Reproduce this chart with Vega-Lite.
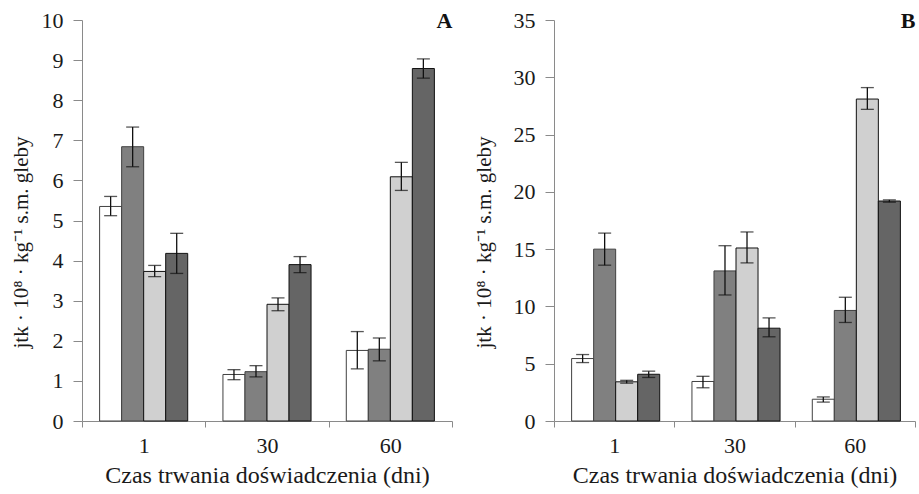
{
  "$schema": "https://vega.github.io/schema/vega-lite/v6.json",
  "padding": {"left": 10, "top": 9, "right": 2, "bottom": 2},
  "background": "white",
  "spacing": 20,
  "config": {
    "view": {"stroke": null},
    "font": "Liberation Serif",
    "axis": {
      "labelFont": "Liberation Serif",
      "titleFont": "Liberation Serif",
      "labelFontSize": 22,
      "titleFontSize": 21,
      "titleFontWeight": "normal",
      "labelColor": "#1a1a1a",
      "titleColor": "#1a1a1a",
      "domainColor": "#8a8a8a",
      "tickColor": "#8a8a8a",
      "grid": false
    },
    "title": {"font": "Liberation Serif", "fontSize": 22, "fontWeight": "bold", "anchor": "end", "color": "#111"}
  },
  "datasets": {
    "d": [
      {"panel": "A", "day": "1", "s": "s1", "v": 5.35, "lo": 5.12, "hi": 5.6},
      {"panel": "A", "day": "1", "s": "s2", "v": 6.84, "lo": 6.34, "hi": 7.33},
      {"panel": "A", "day": "1", "s": "s3", "v": 3.73, "lo": 3.6, "hi": 3.88},
      {"panel": "A", "day": "1", "s": "s4", "v": 4.18, "lo": 3.68, "hi": 4.68},
      {"panel": "A", "day": "30", "s": "s1", "v": 1.16, "lo": 1.03, "hi": 1.28},
      {"panel": "A", "day": "30", "s": "s2", "v": 1.23, "lo": 1.1, "hi": 1.38},
      {"panel": "A", "day": "30", "s": "s3", "v": 2.91, "lo": 2.75, "hi": 3.07},
      {"panel": "A", "day": "30", "s": "s4", "v": 3.9, "lo": 3.7, "hi": 4.1},
      {"panel": "A", "day": "60", "s": "s1", "v": 1.76, "lo": 1.3, "hi": 2.23},
      {"panel": "A", "day": "60", "s": "s2", "v": 1.79, "lo": 1.5, "hi": 2.07},
      {"panel": "A", "day": "60", "s": "s3", "v": 6.09, "lo": 5.75, "hi": 6.45},
      {"panel": "A", "day": "60", "s": "s4", "v": 8.79, "lo": 8.55, "hi": 9.03},
      {"panel": "B", "day": "1", "s": "s1", "v": 5.45, "lo": 5.1, "hi": 5.8},
      {"panel": "B", "day": "1", "s": "s2", "v": 15.0, "lo": 13.6, "hi": 16.4},
      {"panel": "B", "day": "1", "s": "s3", "v": 3.42, "lo": 3.3, "hi": 3.55},
      {"panel": "B", "day": "1", "s": "s4", "v": 4.08, "lo": 3.8, "hi": 4.35},
      {"panel": "B", "day": "30", "s": "s1", "v": 3.45, "lo": 2.9, "hi": 3.9},
      {"panel": "B", "day": "30", "s": "s2", "v": 13.1, "lo": 11.0, "hi": 15.3},
      {"panel": "B", "day": "30", "s": "s3", "v": 15.1, "lo": 13.8, "hi": 16.5},
      {"panel": "B", "day": "30", "s": "s4", "v": 8.1, "lo": 7.35, "hi": 9.0},
      {"panel": "B", "day": "60", "s": "s1", "v": 1.9, "lo": 1.65, "hi": 2.1},
      {"panel": "B", "day": "60", "s": "s2", "v": 9.65, "lo": 8.6, "hi": 10.8},
      {"panel": "B", "day": "60", "s": "s3", "v": 28.1, "lo": 27.2, "hi": 29.1},
      {"panel": "B", "day": "60", "s": "s4", "v": 19.2, "lo": 19.1, "hi": 19.3}
    ]
  },
  "hconcat": [
    {
      "width": 370,
      "height": 401,
      "title": {"text": "A", "offset": -24},
      "data": {"name": "d"},
      "transform": [{"filter": "datum.panel === 'A'"}],
      "encoding": {
        "x": {
          "field": "day", "type": "nominal", "sort": ["1", "30", "60"],
          "scale": {"paddingInner": 0, "paddingOuter": 0},
          "axis": {"tickBand": "extent", "labelAngle": 0, "tickSize": 6, "labelPadding": 8, "title": "Czas trwania doświadczenia (dni)", "titleFontSize": 24, "titlePadding": 7}
        },
        "xOffset": {"field": "s", "type": "nominal", "scale": {"paddingOuter": 0.8, "paddingInner": 0}}
      },
      "layer": [
        {
          "mark": {"type": "bar"},
          "encoding": {
            "y": {"field": "v", "type": "quantitative", "scale": {"domain": [0, 10]},
              "axis": {"values": [0,1,2,3,4,5,6,7,8,9,10], "tickSize": 9, "labelPadding": 10, "titlePadding": 10, "titleY": 222, "title": "jtk · 10⁸ · kg⁻¹ s.m. gleby"}},
            "fill": {"field": "s", "type": "nominal", "scale": {"domain": ["s1","s2","s3","s4"], "range": ["#ffffff", "#808080", "#d0d0d0", "#656565"]}, "legend": null},
            "stroke": {"field": "s", "type": "nominal", "scale": {"domain": ["s1","s2","s3","s4"], "range": ["#404040", "#404040", "#111111", "#111111"]}, "legend": null},
            "strokeWidth": {"field": "s", "type": "nominal", "scale": {"domain": ["s1","s2","s3","s4"], "range": [1, 1, 2.2, 2.2]}, "legend": null}
          }
        },
        {
          "mark": {"type": "rule", "color": "#111", "strokeWidth": 1.3},
          "encoding": {"y": {"field": "lo", "type": "quantitative"}, "y2": {"field": "hi"}}
        },
        {
          "mark": {"type": "tick", "color": "#111", "size": 13, "thickness": 1.3},
          "encoding": {"y": {"field": "lo", "type": "quantitative"}}
        },
        {
          "mark": {"type": "tick", "color": "#111", "size": 13, "thickness": 1.3},
          "encoding": {"y": {"field": "hi", "type": "quantitative"}}
        }
      ]
    },
    {
      "width": 361,
      "height": 401,
      "title": {"text": "B", "offset": -24},
      "data": {"name": "d"},
      "transform": [{"filter": "datum.panel === 'B'"}],
      "encoding": {
        "x": {
          "field": "day", "type": "nominal", "sort": ["1", "30", "60"],
          "scale": {"paddingInner": 0, "paddingOuter": 0},
          "axis": {"tickBand": "extent", "labelAngle": 0, "tickSize": 6, "labelPadding": 8, "title": "Czas trwania doświadczenia (dni)", "titleFontSize": 24, "titlePadding": 7}
        },
        "xOffset": {"field": "s", "type": "nominal", "scale": {"paddingOuter": 0.8, "paddingInner": 0}}
      },
      "layer": [
        {
          "mark": {"type": "bar"},
          "encoding": {
            "y": {"field": "v", "type": "quantitative", "scale": {"domain": [0, 35]},
              "axis": {"values": [0,5,10,15,20,25,30,35], "tickSize": 9, "labelPadding": 10, "titlePadding": 19, "titleY": 222, "title": "jtk · 10⁸ · kg⁻¹ s.m. gleby"}},
            "fill": {"field": "s", "type": "nominal", "scale": {"domain": ["s1","s2","s3","s4"], "range": ["#ffffff", "#808080", "#d0d0d0", "#656565"]}, "legend": null},
            "stroke": {"field": "s", "type": "nominal", "scale": {"domain": ["s1","s2","s3","s4"], "range": ["#404040", "#404040", "#111111", "#111111"]}, "legend": null},
            "strokeWidth": {"field": "s", "type": "nominal", "scale": {"domain": ["s1","s2","s3","s4"], "range": [1, 1, 2.2, 2.2]}, "legend": null}
          }
        },
        {
          "mark": {"type": "rule", "color": "#111", "strokeWidth": 1.3},
          "encoding": {"y": {"field": "lo", "type": "quantitative"}, "y2": {"field": "hi"}}
        },
        {
          "mark": {"type": "tick", "color": "#111", "size": 13, "thickness": 1.3},
          "encoding": {"y": {"field": "lo", "type": "quantitative"}}
        },
        {
          "mark": {"type": "tick", "color": "#111", "size": 13, "thickness": 1.3},
          "encoding": {"y": {"field": "hi", "type": "quantitative"}}
        }
      ]
    }
  ]
}
